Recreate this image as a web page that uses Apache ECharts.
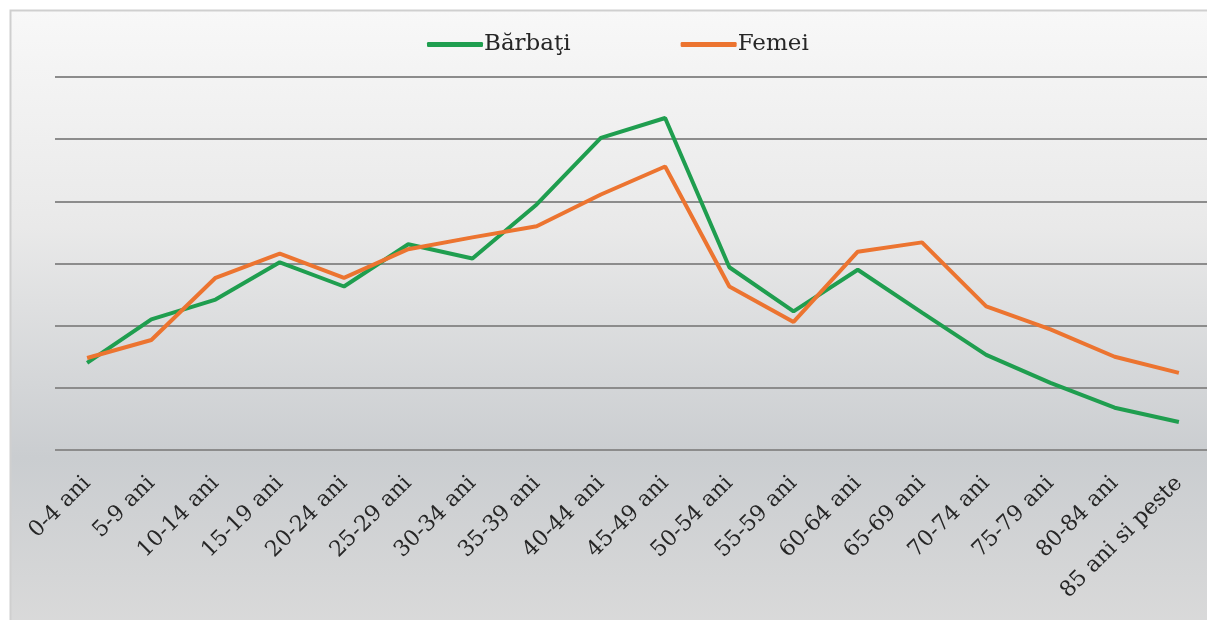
<!DOCTYPE html>
<html>
<head>
<meta charset="utf-8">
<script src="https://cdn.jsdelivr.net/npm/echarts@6/dist/echarts.min.js"></script>
<style>
  html, body { margin: 0; padding: 0; background: #fff; }
  #main { width: 1207px; height: 620px; }
</style>
</head>
<body>
<div id="main"></div>
<script>
var categories = ['0-4 ani', '5-9 ani', '10-14 ani', '15-19 ani', '20-24 ani', '25-29 ani',
    '30-34 ani', '35-39 ani', '40-44 ani', '45-49 ani', '50-54 ani', '55-59 ani',
    '60-64 ani', '65-69 ani', '70-74 ani', '75-79 ani', '80-84 ani', '85 ani si peste'];
var barbati = [1.40, 2.10, 2.42, 3.02, 2.63, 3.31, 3.08, 3.95, 5.02, 5.34,
    2.94, 2.23, 2.90, 2.21, 1.53, 1.08, 0.68, 0.45];
var femei = [1.48, 1.77, 2.77, 3.16, 2.77, 3.23, 3.42, 3.60, 4.11, 4.56,
    2.63, 2.06, 3.19, 3.34, 2.31, 1.94, 1.50, 1.24];

var chart = echarts.init(document.getElementById('main'));

var font = 'DejaVu Serif, Liberation Serif, serif';

var option = {
    backgroundColor: '#fff',
    graphic: [{
        type: 'rect',
        z: -10,
        silent: true,
        shape: { x: 10.5, y: 10.5, width: 1210, height: 620 },
        style: {
            stroke: '#cfcfcf',
            lineWidth: 2,
            fill: {
                type: 'linear', x: 0, y: 0, x2: 0, y2: 1,
                colorStops: [
                    { offset: 0, color: '#f8f8f8' },
                    { offset: 0.35, color: '#e9e9e9' },
                    { offset: 0.72, color: '#cacdd0' },
                    { offset: 1, color: '#dadada' }
                ]
            }
        }
    }],
    legend: {
        top: 28,
        left: 422,
        itemGap: 110,
        itemWidth: 56,
        itemHeight: 5,
        icon: 'roundRect',
        textStyle: { fontFamily: font, fontSize: 23, color: '#262626', padding: [0, 0, 0, -4] },
        data: ['Bărbaţi', 'Femei']
    },
    grid: {
        left: 55,
        width: 1156,
        top: 77,
        bottom: 170,
        containLabel: false,
        outerBoundsMode: 'none'
    },
    xAxis: {
        type: 'category',
        data: categories,
        boundaryGap: true,
        axisLine: { show: false },
        axisTick: { show: false },
        axisLabel: {
            rotate: 45,
            interval: 0,
            margin: 30,
            fontFamily: font,
            fontSize: 22,
            color: '#262626'
        }
    },
    yAxis: {
        type: 'value',
        min: 0,
        max: 6,
        interval: 1,
        axisLabel: { show: false },
        axisLine: { show: false },
        axisTick: { show: false },
        splitLine: { lineStyle: { color: '#8c8c8c', width: 2 } }
    },
    series: [{
        name: 'Bărbaţi',
        type: 'line',
        data: barbati,
        symbol: 'none',
        color: '#1f9e4f',
        lineStyle: { width: 4, color: '#1f9e4f' }
    }, {
        name: 'Femei',
        type: 'line',
        data: femei,
        symbol: 'none',
        color: '#ec7430',
        lineStyle: { width: 4, color: '#ec7430' }
    }]
};

chart.setOption(option);
</script>
</body>
</html>
